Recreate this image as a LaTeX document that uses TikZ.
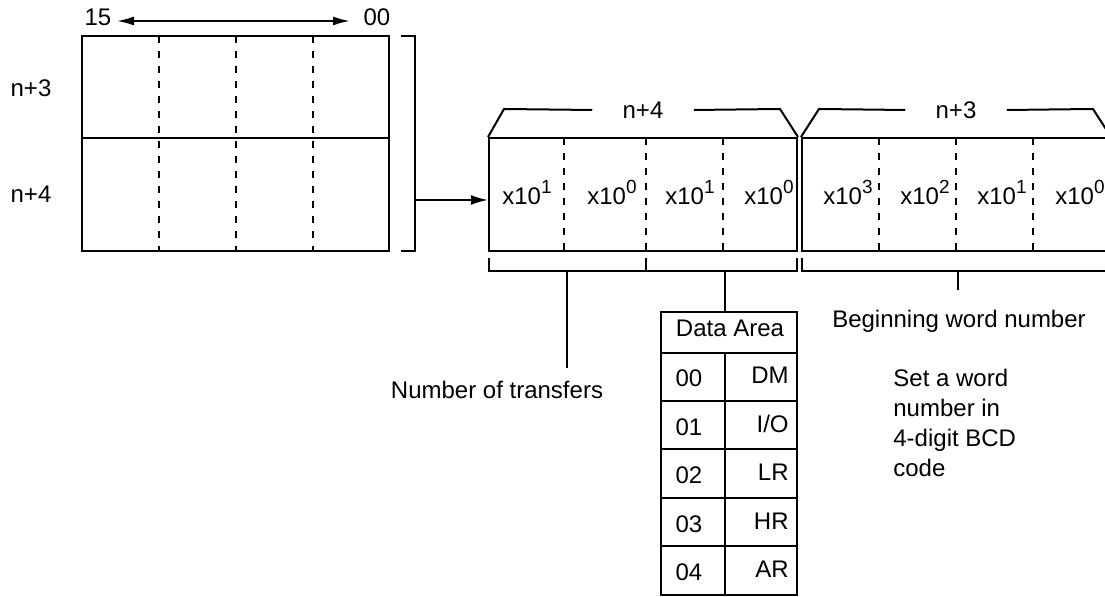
\documentclass[tikz,border=0pt]{standalone}
\usepackage{fontspec}
\setmainfont{Liberation Sans}
\usetikzlibrary{arrows.meta,calc}
\newcommand{\pw}[1]{x10\raisebox{5.5pt}{\fontsize{9.5}{11}\selectfont #1}}
\tikzset{
  lbl/.style={font=\fontsize{12}{15}\selectfont, inner sep=0pt},
  reg/.style={draw, line width=1pt, inner sep=0pt},
  div/.style={line width=1.1pt, dash pattern=on 3.5pt off 4pt},
  ln/.style={line width=1pt},
  arr/.style={line width=1pt, -{Latex[length=8.5pt,width=5pt]}},
  dblarr/.style={line width=1pt, {Latex[length=8.5pt,width=4.5pt]}-{Latex[length=8.5pt,width=4.5pt]}}
}
\begin{document}
\begin{tikzpicture}[x=0.5pt,y=-0.5pt]
  \useasboundingbox (0,0) rectangle (1105,597);
  \clip (0,0) rectangle (1105,597);
  % source words n+3 / n+4
  \node[reg, minimum width=153.5pt, minimum height=107.5pt] (tbl) at (235.5,143.5) {};
  \draw[ln] (82,138) -- (389,138);
  \foreach \x in {159,236,313} \draw[div] (\x,36) -- (\x,251);
  \node[lbl, anchor=base] (b15) at (98,26) {15};
  \node[lbl, anchor=base] (b00) at (377,26) {00};
  \coordinate (s) at (117,21);
  \coordinate (e) at (350,21);
  \draw[dblarr] (s) -- (e);
  \node[lbl, anchor=base] (w3) at (31,97) {n+3};
  \node[lbl, anchor=base] (w4) at (31,203) {n+4};
  \draw[ln] (401,36) -- (415,36) -- (415,251) -- (401,251);
  \coordinate (brk) at (415,200);
  % n+4 and n+3 as laid out
  \node[reg, minimum width=154pt, minimum height=56.5pt] (lo) at (643,194.5) {};
  \node[reg, minimum width=154pt, minimum height=56.5pt] (hi) at (956,194.5) {};
  \draw[arr] (brk) -- (brk -| lo.west);
  \foreach \x in {564,646,723} \draw[div] (\x,138) -- (\x,251);
  \foreach \x in {879,956,1033} \draw[div] (\x,138) -- (\x,251);
  \foreach \x/\e [count=\i] in {527/1,612/0,690/1,769/0}
    \node[lbl, anchor=base] (lod\i) at (\x,205) {\pw{\e}};
  \foreach \x/\e [count=\i] in {848/3,925/2,1002/1,1080/0}
    \node[lbl, anchor=base] (hid\i) at (\x,205) {\pw{\e}};
  \node[lbl, inner xsep=15pt] (nlo) at (643,110) {n+4};
  \node[lbl, inner xsep=15pt] (nhi) at (956,110) {n+3};
  \draw[ln] (lo.north west) -- ++(16,-28) -- (nlo.west);
  \draw[ln] (nlo.east) -- ($(lo.north east)+(-18,-28)$) -- (lo.north east);
  \draw[ln] (hi.north west) -- ++(18,-28) -- (nhi.west);
  \draw[ln] (nhi.east) -- ($(hi.north east)+(-18,-28)$) -- (hi.north east);
  % brackets below
  \draw[ln] (489,258) -- (489,271) -- (797,271) -- (797,258);
  \draw[ln] (646,258) -- (646,271);
  \draw[ln] (802,258) -- (802,271) -- (1110,271) -- (1110,258);
  \draw[ln] (567,271) -- (567,368);
  \draw[ln] (958,271) -- (958,290);
  \node[lbl, anchor=base] (ntr) at (497,399) {Number of transfers};
  \node[lbl, anchor=base] (bwn) at (959,328) {Beginning word number};
  \node[lbl, anchor=north west, align=left] (bcd) at (893,369)
    {Set a word\\number in\\4-digit BCD\\code};
  % data area codes
  \node[reg, minimum width=68pt, minimum height=141.5pt] (area) at (729,453.5) {};
  \draw[ln] (725,271) -- (area.north -| 725,0);
  \node[lbl, anchor=base] (ahd) at (730,337) {Data Area};
  \draw[ln] (661,353) -- (797,353);
  \draw[ln] (725,353) -- (725,595);
  \foreach \n/\a [count=\i from 0] in {00/DM,01/{I/O},02/LR,03/HR,04/AR}{
    \draw[ln] (661,{401+48.4*\i}) -- (797,{401+48.4*\i});
    \node[lbl, anchor=base] (ac\i) at (689,{387+48.4*\i}) {\n};
    \node[lbl, anchor=base east] (an\i) at (789,{384+48.4*\i}) {\a};
  }
\end{tikzpicture}
\end{document}
